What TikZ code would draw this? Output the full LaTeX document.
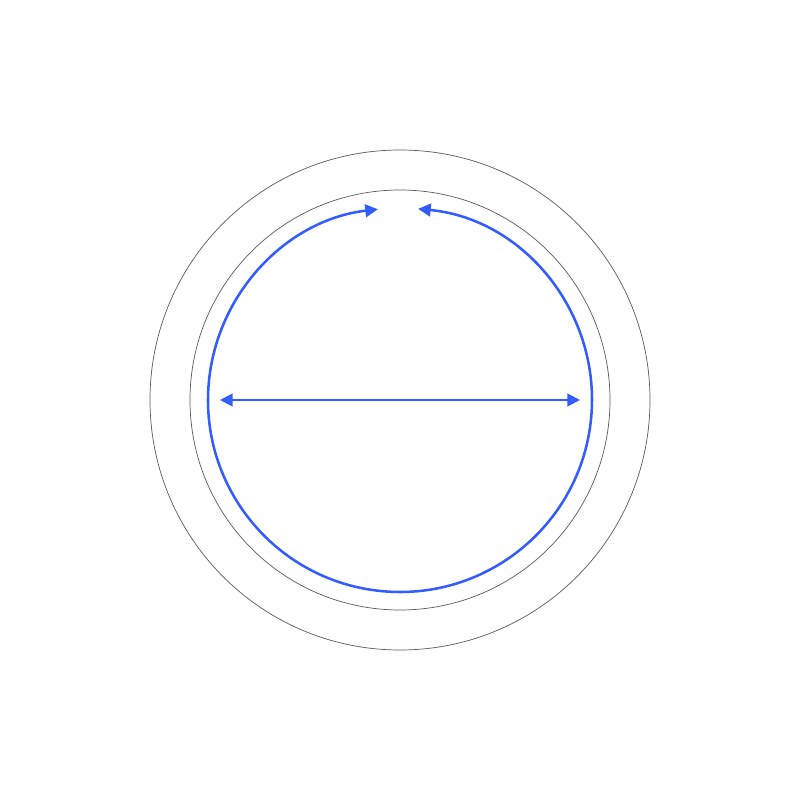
\documentclass[tikz,border=0pt]{standalone}
\usepackage{tikz}
\usetikzlibrary{arrows.meta}
\definecolor{arcblue}{RGB}{51,92,255}
\tikzset{
  ring/.style={draw=black!65, line width=0.5pt},
  bluearrow/.style={draw=arcblue, line width=1.8pt, {Triangle[length=9pt,width=9pt]}-{Triangle[length=9pt,width=9pt]}}
}

\begin{document}
\begin{tikzpicture}
\useasboundingbox (-10,-10) rectangle (10,10);
\coordinate (O) at (0,0);
\coordinate (dl) at (-4.5,0);
\coordinate (dr) at (4.5,0);
\coordinate (tr) at (84.6:4.8);
\draw[ring] (O) circle (6.25);
\draw[ring] (O) circle (5.25);
\draw[bluearrow] (tr) arc[start angle=84.6, end angle=-263.4, radius=4.8];
\draw[bluearrow] (dl) -- (dr);
\end{tikzpicture}
\end{document}
